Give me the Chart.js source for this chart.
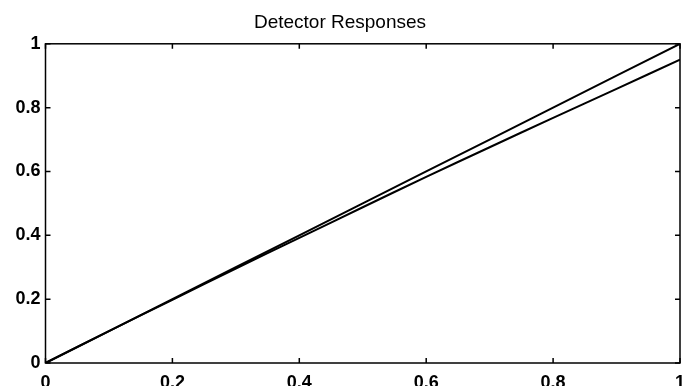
<!DOCTYPE html>
<html>
<head>
<meta charset="utf-8">
<script src="https://cdn.jsdelivr.net/npm/chart.js@4"></script>
<style>
  html, body { margin: 0; padding: 0; background: #fff; overflow: hidden; }
</style>
</head>
<body>
<canvas id="detectors" width="683" height="398"></canvas>
<script>
// Sample positions along the input axis
const inputs = [0, 0.1, 0.2, 0.3, 0.4, 0.5, 0.6, 0.7, 0.8, 0.9, 1];
// Ideal detector: follows the input exactly
const idealResponse = [0, 0.1, 0.2, 0.3, 0.4, 0.5, 0.6, 0.7, 0.8, 0.9, 1];
// Real detector: bends away slowly towards the top end
const realResponse = [0, 0.1, 0.198, 0.296, 0.392, 0.488, 0.583, 0.676, 0.768, 0.859, 0.95];
const tickValues = [0, 0.2, 0.4, 0.6, 0.8, 1];

const toPoints = (ys) => inputs.map((x, i) => ({ x, y: ys[i] }));

// Box around the plot with small inward tick marks on all four sides
const frame = {
  id: "frame",
  afterDraw(chart) {
    const { ctx, chartArea: a, scales } = chart;
    const len = 5;
    ctx.save();
    ctx.strokeStyle = "#000";
    ctx.lineWidth = 1.5;
    ctx.strokeRect(a.left, a.top, a.right - a.left, a.bottom - a.top);
    ctx.beginPath();
    tickValues.forEach((v) => {
      const px = scales.x.getPixelForValue(v);
      ctx.moveTo(px, a.bottom); ctx.lineTo(px, a.bottom - len);
      ctx.moveTo(px, a.top); ctx.lineTo(px, a.top + len);
      const py = scales.y.getPixelForValue(v);
      ctx.moveTo(a.left, py); ctx.lineTo(a.left + len, py);
      ctx.moveTo(a.right, py); ctx.lineTo(a.right - len, py);
    });
    ctx.stroke();
    ctx.restore();
  },
};

const tickFont = { family: "Liberation Sans, Arial, sans-serif", size: 18, weight: "bold" };

new Chart(document.getElementById("detectors"), {
  type: "line",
  data: {
    datasets: [
      { data: toPoints(idealResponse), borderColor: "#000", borderWidth: 2, pointRadius: 0, tension: 0 },
      { data: toPoints(realResponse), borderColor: "#000", borderWidth: 2, pointRadius: 0, tension: 0.3 },
    ],
  },
  options: {
    responsive: false,
    animation: false,
    layout: { padding: { top: 0, right: 3, left: 0, bottom: 0 } },
    plugins: {
      legend: { display: false },
      tooltip: { enabled: false },
      title: {
        display: true,
        text: "Detector Responses",
        color: "#000",
        font: { family: "Liberation Sans, Arial, sans-serif", size: 19, weight: "normal" },
        padding: { top: 11, bottom: 10 },
      },
    },
    scales: {
      x: {
        type: "linear",
        min: 0,
        max: 1,
        grid: { display: false, drawTicks: false },
        border: { display: false },
        afterBuildTicks: (s) => { s.ticks = tickValues.map((v) => ({ value: v })); },
        afterFit: (s) => { s.height = 35; s.paddingLeft = 0; s.paddingRight = 0; },
        ticks: {
          color: "#000",
          font: tickFont,
          padding: 9,
          maxRotation: 0,
          autoSkip: false,
          callback: (v) => String(v),
        },
      },
      y: {
        type: "linear",
        min: 0,
        max: 1,
        grid: { display: false, drawTicks: false },
        border: { display: false },
        afterBuildTicks: (s) => { s.ticks = tickValues.map((v) => ({ value: v })); },
        afterFit: (s) => { s.width = 45.5; s.paddingTop = 0; s.paddingBottom = 0; },
        ticks: {
          color: "#000",
          font: tickFont,
          padding: 5,
          autoSkip: false,
          callback: (v) => String(v),
        },
      },
    },
  },
  plugins: [frame],
});
</script>
</body>
</html>
